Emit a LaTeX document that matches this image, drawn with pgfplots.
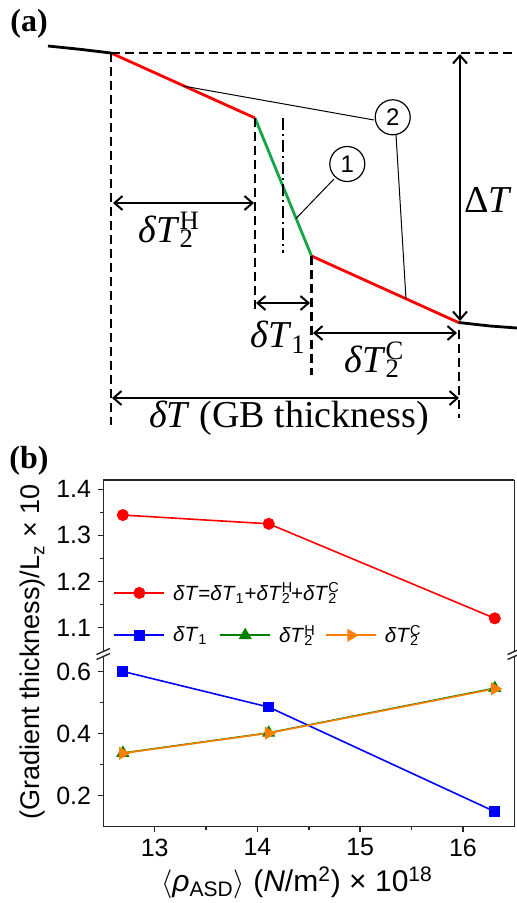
\documentclass[border=0pt]{standalone}
\usepackage{fontspec}
\setmainfont{Liberation Sans}
\newfontfamily\serif{Liberation Serif}
\usepackage{pgfplots}
\pgfplotsset{compat=1.18}
\usetikzlibrary{arrows.meta}
\newcommand{\supsub}[2]{\rlap{\textsuperscript{#1}}\textsubscript{#2}}
\definecolor{lgreen}{RGB}{20,165,70}
\definecolor{dgreen}{RGB}{0,128,0}
\definecolor{orng}{RGB}{255,128,0}
\begin{document}
\begin{tikzpicture}
\useasboundingbox (0pt,0pt) rectangle (258.5pt,-451.5pt);
% ---------------- panel (a) ----------------
\begin{axis}[at={(0pt,0pt)}, anchor=north west, scale only axis,
  width=258.5pt, height=225pt, xmin=0, xmax=517, ymin=0, ymax=450,
  y dir=reverse, hide axis, clip=false,
  >={Straight Barb[length=4pt,width=7pt]}]
\addplot[black, line width=1.4pt] coordinates {(48,46) (80,49.3) (111,53)};
\addplot[red, line width=1.4pt] coordinates {(111,53) (255,118)};
\addplot[lgreen, line width=1.4pt] coordinates {(255,118) (311.5,256)};
\addplot[red, line width=1.4pt] coordinates {(311.5,256) (458.5,322.5)};
\addplot[black, line width=1.4pt] coordinates {(458.5,322.5) (490,326) (517,328)};
% dashed guides
\addplot[black, line width=1.1pt, dash pattern=on 4.5pt off 2.5pt] coordinates {(111,53) (517,53)};
\addplot[black, line width=1.1pt, dash pattern=on 4.5pt off 2.5pt] coordinates {(111,53) (111,425)};
\addplot[black, line width=1.1pt, dash pattern=on 4.5pt off 2.5pt] coordinates {(255,118) (255,313)};
\addplot[black, line width=1.1pt, dash pattern=on 4.5pt off 2.5pt] coordinates {(311.5,256) (311.5,375)};
\addplot[black, line width=1.1pt, dash pattern=on 4.5pt off 2.5pt] coordinates {(459,330) (459,418)};
\addplot[black, line width=1.1pt, dash pattern=on 6pt off 2pt on 1pt off 2pt] coordinates {(283,118) (283,253)};
% arrows
\addplot[black, line width=1pt, <->] coordinates {(460,54) (460,321)};
\addplot[black, line width=1pt, <->] coordinates {(113,203) (254,203)};
\addplot[black, line width=1pt, <->] coordinates {(256,303) (310,303)};
\addplot[black, line width=1pt, <->] coordinates {(313,333) (457,333)};
\addplot[black, line width=1pt, <->] coordinates {(112,398) (459,398)};
% pointer lines
\addplot[black, line width=0.5pt] coordinates {(183,86) (374,120)};
\addplot[black, line width=0.5pt] coordinates {(396,134.5) (406,299)};
\addplot[black, line width=0.5pt] coordinates {(334,179) (296,218.5)};
\node[draw, circle, minimum size=17.5pt, inner sep=0pt, line width=0.6pt, fill=white,
  font=\fontsize{12}{14}\selectfont] at (392.7,117.3) {2};
\node[draw, circle, minimum size=17.5pt, inner sep=0pt, line width=0.6pt, fill=white,
  font=\fontsize{12}{14}\selectfont] at (347.3,164) {1};
% labels
\node[font=\serif\bfseries\fontsize{16}{18}\selectfont] at (29,24) {(a)};
\node[font=\serif\fontsize{19}{22}\selectfont] at (488,200) {Δ\textit{T}};
\node[font=\serif\fontsize{19}{22}\selectfont] at (180,230) {\textit{δT}\supsub{H}{2}\hphantom{H}};
\node[font=\serif\fontsize{19}{22}\selectfont] at (278,337) {\textit{δT}\textsubscript{1}};
\node[font=\serif\fontsize{19}{22}\selectfont] at (385,360) {\textit{δT}\supsub{C}{2}\hphantom{C}};
\node[font=\serif\fontsize{19}{22}\selectfont] at (289,418) {\textit{δT} (GB thickness)};
\end{axis}
% ---------------- panel (b) ----------------
\pgfplotsset{
  bstyle/.style={scale only axis, width=205.5pt, height=85.3pt,
    xmin=12.5, xmax=16.5, tick align=outside,
    major tick length=2.6pt, minor tick length=1.5pt,
    axis line style={-, black!85, line width=0.7pt},
    every tick/.style={black!85, line width=0.7pt},
    /pgf/number format/assume math mode=true,
    tick label style={font=\fontsize{12.5}{14}\selectfont},
    yticklabel style={/pgf/number format/.cd, fixed, fixed zerofill, precision=1},
    ytick pos=left, clip=false,
    legend cell align=left,
    legend style={draw=none, fill=none, inner sep=0pt, font=\fontsize{10.3}{12}\selectfont,
      /tikz/every odd column/.append style={column sep=2pt},
      /tikz/every even column/.append style={column sep=4pt}},
    legend image code/.code={\draw[mark repeat=2, mark phase=2] plot coordinates {(0pt,0pt) (12.5pt,0pt) (25pt,0pt)};},
  }
}
\begin{axis}[bstyle, at={(51.65pt,-240pt)}, anchor=north west,
  ymin=1.05, ymax=1.42, axis x line*=top, axis y line*=box,
  xtick=\empty, ytick={1.1,1.2,1.3,1.4}, minor y tick num=1,
  legend style={at={(0.024,0.338)}, anchor=west}]
\addplot[red, line width=0.8pt, mark=*, mark size=2.6pt] coordinates {(12.69,1.344) (14.11,1.325) (16.31,1.120)};
\addlegendentry{\textit{δT}=\textit{δT}\textsubscript{1}+\textit{δT}\supsub{H}{2}+\textit{δT}\supsub{C}{2}}
\end{axis}
\begin{axis}[bstyle, at={(51.65pt,-413.25pt)}, anchor=south west,
  ymin=0.1, ymax=0.65, axis x line*=bottom, axis y line*=box,
  xtick={13,14,15,16}, minor x tick num=1, xtick pos=bottom,
  ytick={0.2,0.4,0.6}, minor y tick num=1,
  legend columns=3,
  legend style={at={(0.024,1.121)}, anchor=west}]
\addplot[blue, line width=0.8pt, mark=square*, mark size=2.3pt] coordinates {(12.69,0.600) (14.11,0.485) (16.31,0.148)};
\addlegendentry{\textit{δT}\textsubscript{1}}
\addplot[dgreen, line width=0.8pt, mark=triangle*, mark size=3pt] coordinates {(12.69,0.337) (14.11,0.402) (16.31,0.546)};
\addlegendentry{\textit{δT}\supsub{H}{2}}
\addplot[orng, line width=0.8pt, mark=triangle*, mark size=3pt, mark options={rotate=-90}] coordinates {(12.69,0.336) (14.11,0.401) (16.31,0.544)};
\addlegendentry{\textit{δT}\supsub{C}{2}}
\end{axis}
% break marks
\begin{scope}[x=0.5pt, y=-0.5pt]
\draw[black!85, line width=0.7pt] (96.5,654.5) -- (110,648.5);
\draw[black!85, line width=0.7pt] (96.5,659.5) -- (110,653.5);
\draw[black!85, line width=0.7pt] (507.5,654.5) -- (517,650.3);
\draw[black!85, line width=0.7pt] (507.5,659.5) -- (517,655.3);
\node[font=\serif\bfseries\fontsize{16}{18}\selectfont] at (29,461) {(b)};
\node[rotate=90, font=\fontsize{13.5}{15}\selectfont] at (33,652) {(Gradient thickness)/L\textsubscript{z} × 10};
\node[font=\fontsize{15}{17}\selectfont] at (297,883) {$\langle$\textit{ρ}\textsubscript{ASD}$\rangle$ (\textit{N}/m\textsuperscript{2}) × 10\textsuperscript{18}};
\end{scope}
\end{tikzpicture}
\end{document}
